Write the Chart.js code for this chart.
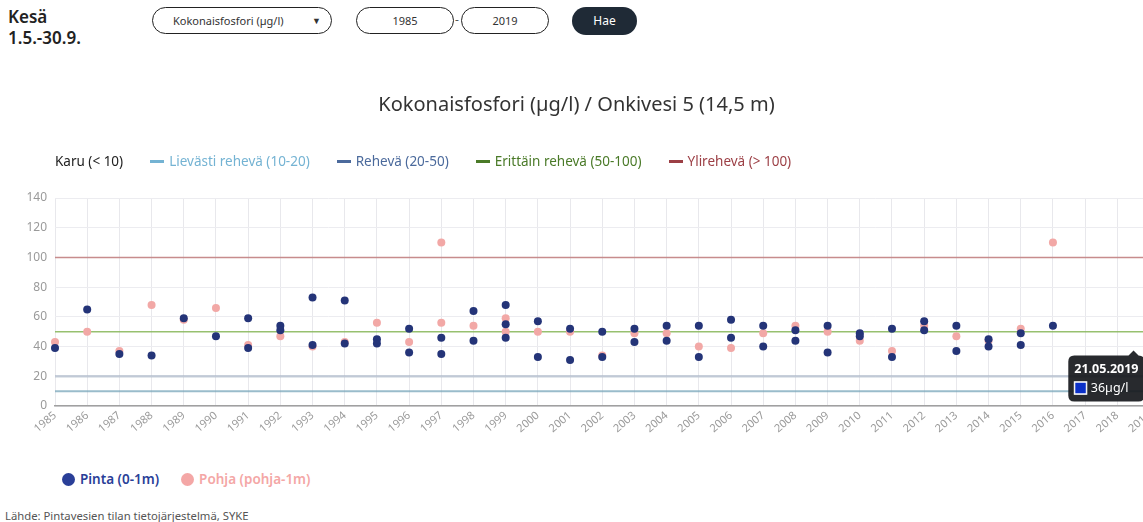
<!DOCTYPE html>
<html>
<head>
<meta charset="utf-8">
<script src="https://cdn.jsdelivr.net/npm/chart.js@4.4.0/dist/chart.umd.min.js"></script>
<style>
    body { margin: 0; width: 1143px; height: 522px; overflow: hidden; background: #fff; position: relative; font-family: "Noto Sans", sans-serif; color: #222; }
    .season { position: absolute; left: 8px; top: 6px; font-size: 17px; font-weight: 600; line-height: 21px; color: #222; }
    .pill { position: absolute; top: 7px; height: 25px; border: 1.5px solid #222; border-radius: 14px; font-size: 11px; line-height: 25px; text-align: center; color: #333; box-sizing: content-box; }
    .dash { position: absolute; left: 455px; top: 11px; font-size: 12px; color: #555; }
    .btn { position: absolute; left: 572px; top: 7px; width: 65px; height: 28px; border-radius: 14px; background: #1f2a36; color: #fff; font-size: 12px; line-height: 28px; text-align: center; }
    #wrap { position: absolute; left: 0; top: 75px; width: 1161px; height: 372px; }
    #topLegend { position: absolute; left: 55px; top: 152px; display: flex; font-size: 13.5px; white-space: nowrap; }
    #topLegend span.item { display: flex; align-items: center; margin-right: 27px; }
    #topLegend i { display: inline-block; width: 14px; height: 3px; margin-right: 5px; }
    #bottomLegend { position: absolute; left: 62px; top: 470px; display: flex; font-size: 13.5px; font-weight: 600; white-space: nowrap; }
    #bottomLegend span.item { display: flex; align-items: center; margin-right: 22px; }
    #bottomLegend i { display: inline-block; width: 13px; height: 13px; border-radius: 50%; margin-right: 5px; }
    .source { position: absolute; left: 5px; top: 508px; font-size: 11.3px; color: #555; }
</style>
</head>
<body>
<div class="season">Kesä<br>1.5.-30.9.</div>
<div class="pill" style="left:152px;width:178px;text-align:left;"><span style="margin-left:20px">Kokonaisfosfori (µg/l)</span><span style="position:absolute;right:10px;font-size:9px">▼</span></div>
<div class="pill" style="left:356px;width:96px;">1985</div>
<div class="dash">-</div>
<div class="pill" style="left:461px;width:86px;">2019</div>
<div class="btn">Hae</div>

<div id="wrap"><canvas id="chartPisteet"></canvas></div>
<div id="topLegend"></div>
<div id="bottomLegend"></div>
<div class="source">Lähde: Pintavesien tilan tietojärjestelmä, SYKE</div>

<script>
    const chartTitle = "Kokonaisfosfori (µg/l) / Onkivesi 5 (14,5 m)";

    // Pinta (0-1m)
    const pintaYears = [1985, 1986, 1987, 1988, 1989, 1990, 1991, 1991, 1992, 1992,
        1993, 1993, 1994, 1994, 1995, 1995, 1996, 1996, 1997, 1997,
        1998, 1998, 1999, 1999, 1999, 2000, 2000, 2001, 2001, 2002,
        2002, 2003, 2003, 2004, 2004, 2005, 2005, 2006, 2006, 2007,
        2007, 2008, 2008, 2009, 2009, 2010, 2010, 2011, 2011, 2012,
        2012, 2013, 2013, 2014, 2014, 2015, 2015, 2016, 2019];
    const pintaValues = [39, 65, 35, 34, 59, 47, 59, 39, 54, 51,
        73, 41, 71, 42, 45, 42, 52, 36, 46, 35,
        64, 44, 68, 55, 46, 57, 33, 52, 31, 50,
        33, 52, 43, 54, 44, 54, 33, 58, 46, 54,
        40, 51, 44, 54, 36, 49, 47, 52, 33, 57,
        51, 54, 37, 45, 40, 49, 41, 54, 36];

    // Pohja (pohja-1m)
    const pohjaYears = [1985, 1986, 1987, 1988, 1989, 1990, 1991, 1992, 1993, 1994,
        1995, 1996, 1997, 1997, 1998, 1999, 1999, 2000, 2001, 2002,
        2003, 2004, 2005, 2006, 2007, 2008, 2009, 2010, 2011, 2012,
        2013, 2014, 2015, 2016];
    const pohjaValues = [43, 50, 37, 68, 58, 66, 41, 47, 40, 43,
        56, 43, 110, 56, 54, 59, 50, 50, 50, 34,
        49, 49, 40, 39, 49, 54, 50, 44, 37, 54,
        47, 44, 52, 110];

    // luokkarajat
    const classNames = ["Karu (< 10)", "Lievästi rehevä (10-20)", "Rehevä (20-50)", "Erittäin rehevä (50-100)", "Ylirehevä (> 100)"];
    const classLimits = [null, 10, 20, 50, 100];
    const classTextColors = ["#222", "#74b3d3", "#4b6a9c", "#4a7a28", "#9c3f45"];
    const classLineColors = [null, "rgba(120,165,185,0.75)", "rgba(175,186,202,0.7)", "rgba(140,185,95,0.9)", "rgba(195,130,130,0.9)"];
    const classLineWidths = [0, 2, 2.5, 1.5, 1.5];

    const firstYear = 1985;
    const lastYear = 2019;
    const tooltipDate = "21.05.2019";

    const toPoints = (xs, ys) => xs.map((x, i) => ({ x: x, y: ys[i] }));

    const datasets = [{
            type: "scatter",
            label: "Pinta (0-1m)",
            data: toPoints(pintaYears, pintaValues),
            backgroundColor: "#243478",
            borderWidth: 0,
            pointRadius: 4,
            pointHoverRadius: 4,
            clip: false,
        },
        {
            type: "scatter",
            label: "Pohja (pohja-1m)",
            data: toPoints(pohjaYears, pohjaValues),
            backgroundColor: "#f2a8a6",
            borderWidth: 0,
            pointRadius: 4,
            pointHoverRadius: 4,
            clip: false,
        },
    ];

    classNames.forEach((name, i) => {
        if (classLimits[i] === null) return;
        datasets.push({
            type: "line",
            label: name,
            data: [{ x: firstYear, y: classLimits[i] }, { x: lastYear, y: classLimits[i] }],
            borderColor: classLineColors[i],
            borderWidth: classLineWidths[i],
            pointRadius: 0,
            pointHoverRadius: 0,
        });
    });

    // tooltip kulmaan
    Chart.Tooltip.positioners.corner = function(items) {
        if (!items.length) return false;
        const el = items[0].element;
        return { x: el.x - 16, y: el.y - 4 };
    };

    const chart = new Chart(document.getElementById("chartPisteet"), {
        type: "scatter",
        data: { datasets: datasets },
        options: {
            responsive: true,
            maintainAspectRatio: false,
            animation: false,
            events: [],
            layout: { padding: { left: 0, right: 8, top: 0, bottom: 0 } },
            plugins: {
                legend: { display: false },
                title: {
                    display: true,
                    text: chartTitle,
                    color: "#333",
                    font: { family: "Noto Sans", size: 20, weight: "normal" },
                    padding: { top: 18, bottom: 81 },
                },
                tooltip: {
                    position: "corner",
                    xAlign: "right",
                    yAlign: "top",
                    backgroundColor: "rgba(22,24,28,0.92)",
                    titleFont: { family: "Noto Sans", size: 12.5, weight: "bold" },
                    bodyFont: { family: "Noto Sans", size: 12.5 },
                    titleMarginBottom: 4,
                    padding: 6,
                    cornerRadius: 6,
                    caretSize: 5,
                    caretPadding: 2,
                    boxPadding: 2,
                    callbacks: {
                        title: () => tooltipDate,
                        label: (ctx) => ctx.parsed.y + "µg/l",
                        labelColor: () => ({ borderColor: "#fff", backgroundColor: "#0b30c8", borderWidth: 1 }),
                    },
                },
            },
            scales: {
                x: {
                    type: "linear",
                    min: firstYear,
                    max: lastYear,
                    afterFit: (scale) => { scale.height = 41; },
                    ticks: {
                        stepSize: 1,
                        autoSkip: false,
                        maxRotation: 40,
                        minRotation: 40,
                        padding: 3,
                        color: "#9a9a9a",
                        font: { family: "Noto Sans", size: 11 },
                        callback: (v) => String(v),
                    },
                    grid: { color: "#e8e8ec", drawTicks: false },
                    border: { color: "#a0a0a0", width: 1.5 },
                },
                y: {
                    min: 0,
                    max: 140,
                    afterFit: (scale) => { scale.width = 55; },
                    ticks: {
                        stepSize: 20,
                        padding: 8,
                        color: "#9a9a9a",
                        font: { family: "Noto Sans", size: 12 },
                    },
                    grid: { color: "#ececf0", drawTicks: false },
                    border: { display: false },
                },
            },
        },
    });

    // legendat
    const topLegend = document.getElementById("topLegend");
    classNames.forEach((name, i) => {
        const marker = classLimits[i] === null ? "" : '<i style="background:' + classTextColors[i] + '"></i>';
        topLegend.innerHTML += '<span class="item" style="color:' + classTextColors[i] + '">' + marker + name + "</span>";
    });

    const bottomLegend = document.getElementById("bottomLegend");
    [["Pinta (0-1m)", "#2a3f98"], ["Pohja (pohja-1m)", "#f4a7a6"]].forEach((d) => {
        bottomLegend.innerHTML += '<span class="item" style="color:' + d[1] + '"><i style="background:' + d[1] + '"></i>' + d[0] + "</span>";
    });

    // näytä 2019 tooltip
    chart.tooltip.setActiveElements([{ datasetIndex: 0, index: pintaYears.length - 1 }], { x: 0, y: 0 });
    chart.update();
</script>
</body>
</html>
